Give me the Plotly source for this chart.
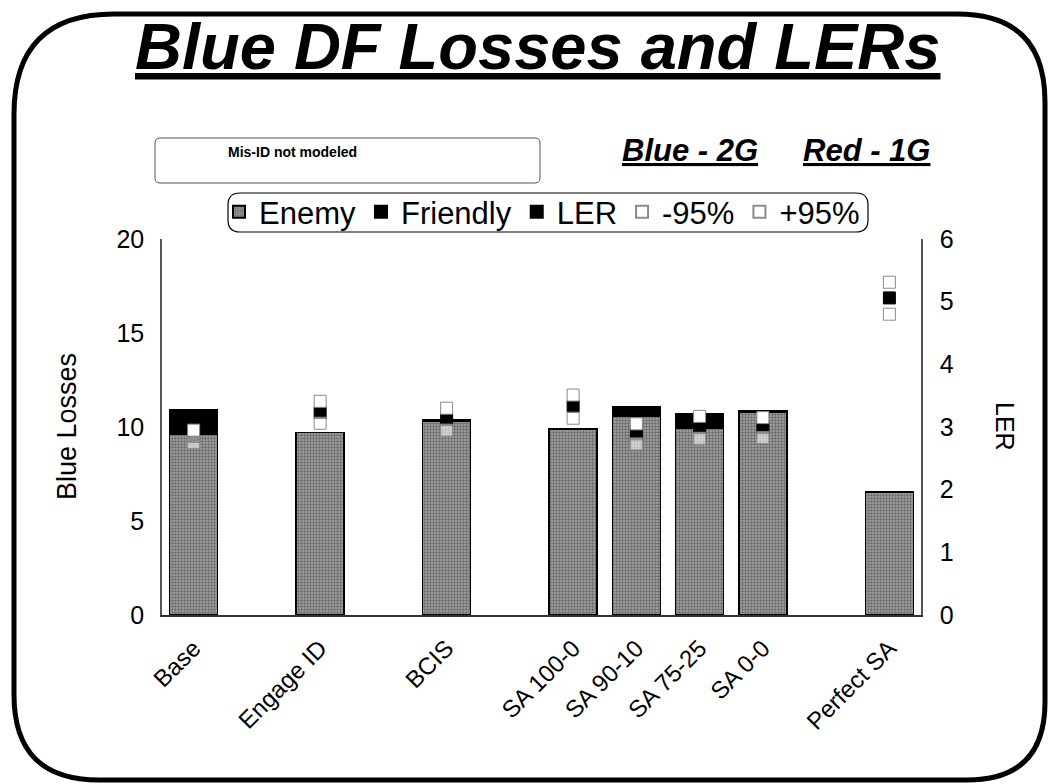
import plotly.graph_objects as go

# ---------------- data ----------------
categories = ["Base", "Engage ID", "BCIS", "SA 100-0", "SA 90-10", "SA 75-25", "SA 0-0", "Perfect SA"]
enemy = [9.6, 9.7, 10.3, 9.9, 10.55, 9.95, 10.8, 6.55]
friendly = [1.3, None, 0.1, None, 0.55, 0.75, 0.05, None]
ler = [2.85, 3.23, 3.12, 3.33, 2.89, 2.99, 2.99, 5.06]
ler_lo = [2.75, 3.06, 2.95, 3.14, 2.73, 2.82, 2.83, 4.80]
ler_hi = [2.95, 3.41, 3.30, 3.51, 3.05, 3.17, 3.15, 5.31]

# category slots incl. blank gaps (layout)
slot_order = ["Base", " ", "Engage ID", "  ", "BCIS", "   ", "SA 100-0", "SA 90-10",
              "SA 75-25", "SA 0-0", "    ", "Perfect SA"]

FONT = "Liberation Sans, Arial, sans-serif"
W_, H_ = 1049, 784
L, R, T, B = 162, 921, 239, 615
PW, PH = R - L, B - T


def px(x):
    return (x - L) / PW


def py(y):
    return (B - y) / PH


def rounded_path(x0, y0, x1, y1, rtl, rtr, rbr, rbl):
    pts = [
        f"M {px(x0):.5f},{py(y0 + rtl):.5f}",
        f"Q {px(x0):.5f},{py(y0):.5f} {px(x0 + rtl):.5f},{py(y0):.5f}",
        f"L {px(x1 - rtr):.5f},{py(y0):.5f}",
        f"Q {px(x1):.5f},{py(y0):.5f} {px(x1):.5f},{py(y0 + rtr):.5f}",
        f"L {px(x1):.5f},{py(y1 - rbr):.5f}",
        f"Q {px(x1):.5f},{py(y1):.5f} {px(x1 - rbr):.5f},{py(y1):.5f}",
        f"L {px(x0 + rbl):.5f},{py(y1):.5f}",
        f"Q {px(x0):.5f},{py(y1):.5f} {px(x0):.5f},{py(y1 - rbl):.5f}",
        "Z",
    ]
    return " ".join(pts)


fig = go.Figure()
fig.add_trace(go.Bar(
    x=categories, y=enemy, name="Enemy",
    marker=dict(color="#8c8c8c",
                line=dict(color="black", width=1.5),
                pattern=dict(shape=".", fgcolor="#2a2a2a", bgcolor="#a6a6a6",
                             size=3, solidity=0.5, fillmode="overlay")),
))
fig.add_trace(go.Bar(
    x=categories, y=friendly, name="Friendly",
    marker=dict(color="black", line=dict(color="black", width=1.5)),
))
fig.add_trace(go.Scatter(
    x=categories, y=ler, name="LER", mode="markers", yaxis="y2",
    marker=dict(symbol="square", size=12, color="black",
                line=dict(color="black", width=1)),
))
fig.add_trace(go.Scatter(
    x=categories, y=ler_lo, name="-95%", mode="markers", yaxis="y2",
    marker=dict(symbol="square", size=12, color="rgba(255,255,255,0.55)",
                line=dict(color="#8a8a8a", width=1)),
))
fig.add_trace(go.Scatter(
    x=categories, y=ler_hi, name="+95%", mode="markers", yaxis="y2",
    marker=dict(symbol="square", size=12, color="white",
                line=dict(color="#8a8a8a", width=1)),
))

shapes = [
    # outer rounded frame
    dict(type="path", xref="paper", yref="paper",
         path=rounded_path(14, 14, 1045, 780, 100, 88, 78, 85),
         line=dict(color="black", width=5), layer="below"),
    # Mis-ID box
    dict(type="path", xref="paper", yref="paper",
         path=rounded_path(155, 138, 540, 183, 5, 5, 5, 5),
         line=dict(color="#555555", width=1)),
    # legend box
    dict(type="path", xref="paper", yref="paper",
         path=rounded_path(228, 193, 868, 232, 12, 12, 12, 12),
         line=dict(color="black", width=1.2)),
]

annotations = [
    dict(text="<b><i><u>Blue DF Losses and LERs</u></i></b>", xref="paper", yref="paper",
         x=px(537), y=py(47), xanchor="center", yanchor="middle", showarrow=False,
         font=dict(family=FONT, size=65, color="black")),
    dict(text="<b>Mis-ID not modeled</b>", xref="paper", yref="paper",
         x=px(292), y=py(152), xanchor="center", yanchor="middle", showarrow=False,
         font=dict(family=FONT, size=14, color="black")),
    dict(text="<b><i><u>Blue - 2G</u></i></b>", xref="paper", yref="paper",
         x=px(690), y=py(150), xanchor="center", yanchor="middle", showarrow=False,
         font=dict(family=FONT, size=31, color="black")),
    dict(text="<b><i><u>Red - 1G</u></i></b>", xref="paper", yref="paper",
         x=px(866), y=py(150), xanchor="center", yanchor="middle", showarrow=False,
         font=dict(family=FONT, size=31, color="black")),
    dict(text="Blue Losses", xref="paper", yref="paper",
         x=px(67), y=py(427), xanchor="center", yanchor="middle", showarrow=False,
         textangle=-90, font=dict(family=FONT, size=27, color="black")),
    dict(text="LER", xref="paper", yref="paper",
         x=px(1005), y=py(426), xanchor="center", yanchor="middle", showarrow=False,
         textangle=90, font=dict(family=FONT, size=25, color="black")),
]

fig.update_layout(
    width=W_, height=H_,
    margin=dict(l=L, r=W_ - R, t=T, b=H_ - B, pad=0),
    paper_bgcolor="white", plot_bgcolor="white",
    barmode="stack", bargap=0.24,
    font=dict(family=FONT, size=24, color="black"),
    showlegend=True,
    legend=dict(orientation="h", x=px(219), y=py(185), xanchor="left", yanchor="top",
                font=dict(family=FONT, size=31, color="black"),
                bgcolor="rgba(0,0,0,0)", borderwidth=0, traceorder="normal",
                itemwidth=30, itemsizing="constant", tracegroupgap=0),
    xaxis=dict(type="category", categoryorder="array", categoryarray=slot_order,
               range=[-0.5, len(slot_order) - 0.5],
               tickmode="array", tickvals=categories, ticktext=categories,
               tickangle=-45, showline=True, linecolor="#333333", linewidth=1.5,
               showgrid=False, ticks="", ticklabelstandoff=8,
               tickfont=dict(family=FONT, size=24)),
    yaxis=dict(range=[0, 20], dtick=5, showline=True, linecolor="#555555", linewidth=1.5,
               showgrid=False, zeroline=False, ticks="", ticklabelstandoff=11,
               tickfont=dict(family=FONT, size=25)),
    yaxis2=dict(range=[0, 6], dtick=1, overlaying="y", side="right", showline=True,
                linecolor="#555555", linewidth=1.5, showgrid=False, zeroline=False,
                ticks="", ticklabelstandoff=12, tickfont=dict(family=FONT, size=25)),
    shapes=shapes,
    annotations=annotations,
)

fig.write_html(
    "out.html",
    config={"displayModeBar": False},
    post_script="document.body.style.margin='0';document.body.style.overflow='hidden';",
)
